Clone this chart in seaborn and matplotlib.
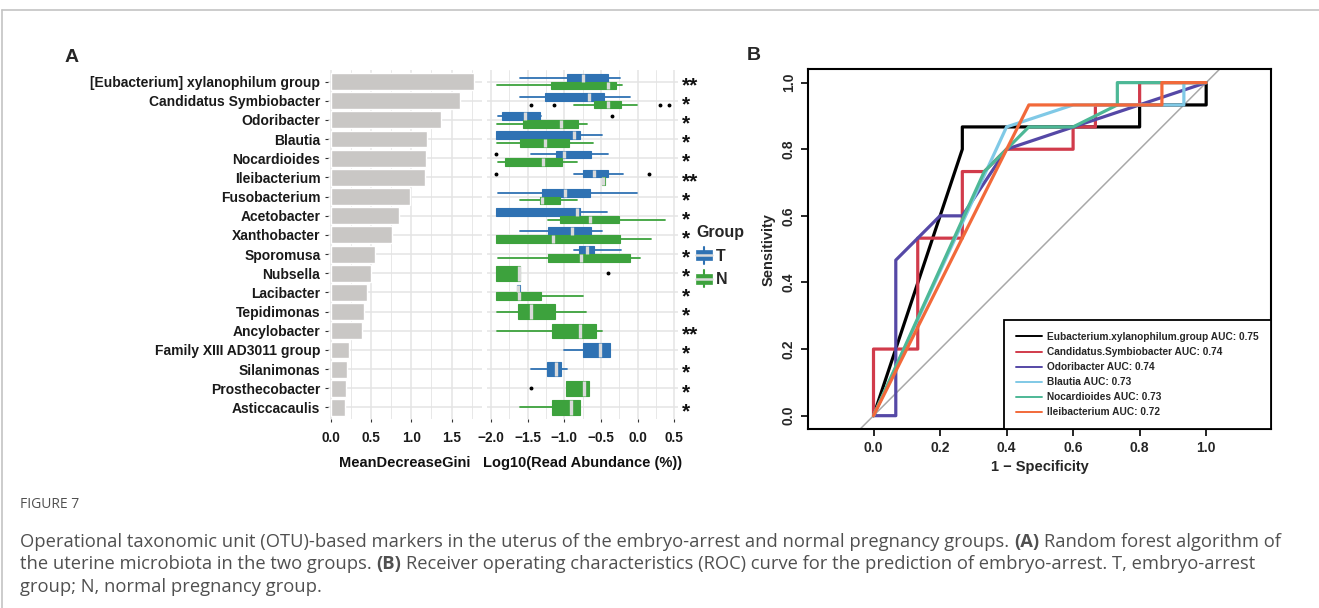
import numpy as np
import pandas as pd
import matplotlib
matplotlib.use("Agg")
import matplotlib.pyplot as plt
import matplotlib.transforms as mtransforms
import seaborn as sns
from matplotlib.legend_handler import HandlerBase
from matplotlib.patches import Patch, Rectangle
from matplotlib.lines import Line2D

sns.set_theme(style="white")
plt.rcParams["font.family"] = ["Liberation Sans", "DejaVu Sans"]

# ---- Panel A data ----
taxa = ["[Eubacterium] xylanophilum group", "Candidatus Symbiobacter", "Odoribacter", "Blautia",
        "Nocardioides", "Ileibacterium", "Fusobacterium", "Acetobacter", "Xanthobacter", "Sporomusa",
        "Nubsella", "Lacibacter", "Tepidimonas", "Ancylobacter", "Family XIII AD3011 group",
        "Silanimonas", "Prosthecobacter", "Asticcacaulis"]
gini = [1.78, 1.61, 1.37, 1.20, 1.18, 1.17, 0.98, 0.85, 0.76, 0.54, 0.49, 0.45, 0.41, 0.39,
        0.22, 0.20, 0.18, 0.17]
stars = ["**", "*", "*", "*", "*", "**", "*", "*", "*", "*", "*", "*", "*", "**", "*", "*", "*", "*"]

# five-number summaries of log10 read abundance, None = group not shown
t_low = [-1.61, -1.61, -1.91, -1.93, -1.45, -0.87, -1.91, -1.93, -1.61, -0.87, None, -1.65, None, None, -1.01, -1.45, None, None]
t_q1 = [-0.96, -1.27, -1.85, -1.93, -1.11, -0.74, -1.30, -1.93, -1.22, -0.80, None, -1.65, None, None, -0.74, -1.23, None, None]
t_med = [-0.74, -0.67, -1.53, -0.87, -1.01, -0.60, -0.99, -0.83, -0.89, -0.69, None, -1.63, None, None, -0.51, -1.11, None, None]
t_q3 = [-0.41, -0.46, -1.33, -0.79, -0.63, -0.41, -0.65, -0.79, -0.64, -0.60, None, -1.61, None, None, -0.38, -1.04, None, None]
t_high = [-0.24, -0.10, -1.32, -0.49, -0.41, -0.20, -0.01, -0.42, -0.49, -0.23, None, -1.61, None, None, -0.38, -0.97, None, None]
t_out = [[], [], [-0.35], [], [-1.93], [-1.93, 0.15], [], [], [], [], [], [], [], [], [], [], [], []]

n_low = [-1.92, -0.87, -1.92, -1.92, -1.91, -0.49, -1.61, -1.22, -1.93, -1.91, -1.93, -1.93, -1.92, -1.92, None, None, -0.98, -1.61]
n_q1 = [-1.18, -0.60, -1.57, -1.60, -1.81, -0.49, -1.33, -1.06, -1.93, -1.22, -1.93, -1.93, -1.63, -1.17, None, None, -0.98, -1.17]
n_med = [-0.41, -0.41, -1.05, -1.27, -1.29, -0.47, -1.31, -0.65, -1.16, -0.77, -1.62, -1.62, -1.45, -0.78, None, None, -0.73, -0.91]
n_q3 = [-0.30, -0.23, -0.82, -0.93, -1.03, -0.44, -1.06, -0.26, -0.24, -0.10, -1.60, -1.32, -1.13, -0.57, None, None, -0.67, -0.78]
n_high = [-0.22, -0.01, -0.69, -0.61, -0.83, -0.44, -0.83, 0.37, 0.18, 0.03, -1.60, -0.74, -0.70, -0.49, None, None, -0.67, -0.78]
n_out = [[], [-1.45, -1.14, 0.30, 0.43], [], [], [], [], [], [], [], [], [-0.41], [], [], [], [], [], [-1.45], []]

# ---- Panel B data ----
roc_names = ["Eubacterium.xylanophilum.group", "Candidatus.Symbiobacter", "Odoribacter",
             "Blautia", "Nocardioides", "Ileibacterium"]
roc_auc = [0.75, 0.74, 0.74, 0.73, 0.73, 0.72]
roc_colors = ["#000000", "#D13B4B", "#5548A6", "#80C9E6", "#4DB896", "#F2693A"]
eub_fpr = [0, 0.267, 0.267, 0.8, 0.8, 1.0, 1.0]
eub_tpr = [0, 0.8, 0.867, 0.867, 0.933, 0.933, 1.0]
can_fpr = [0, 0, 0.133, 0.133, 0.267, 0.267, 0.333, 0.4, 0.6, 0.6, 0.667, 0.667, 0.8, 0.8, 1.0]
can_tpr = [0, 0.2, 0.2, 0.533, 0.533, 0.733, 0.733, 0.8, 0.8, 0.867, 0.867, 0.933, 0.933, 1.0, 1.0]
odo_fpr = [0, 0.067, 0.067, 0.2, 0.267, 0.4, 1.0]
odo_tpr = [0, 0, 0.467, 0.6, 0.6, 0.8, 1.0]
bla_fpr = [0, 0.4, 0.6, 0.933, 0.933, 1.0]
bla_tpr = [0, 0.867, 0.933, 0.933, 1.0, 1.0]
noc_fpr = [0, 0.333, 0.467, 0.6, 0.733, 0.733, 1.0]
noc_tpr = [0, 0.733, 0.867, 0.867, 0.933, 1.0, 1.0]
ile_fpr = [0, 0.467, 0.867, 0.867, 1.0]
ile_tpr = [0, 0.933, 0.933, 1.0, 1.0]

T_COL, N_COL = "#2F72B3", "#3DA23D"
W, H = 1319, 608
fig = plt.figure(figsize=(W / 100, H / 100), dpi=100)
fig.patch.set_facecolor("white")


def frac(x0, y0, x1, y1):
    return [x0 / W, 1 - y1 / H, (x1 - x0) / W, (y1 - y0) / H]


# page frame lines
fig.add_artist(Line2D([2 / W, 1], [1 - 10 / H] * 2, transform=fig.transFigure, color="#c4c4c4", lw=1.2))
fig.add_artist(Line2D([2 / W] * 2, [0, 1 - 10 / H], transform=fig.transFigure, color="#c4c4c4", lw=1.2))

grid_kw = dict(color="#E4E4E4")

# ---- bar panel ----
axA = fig.add_axes(frac(328, 70, 482, 419))
df_gini = pd.DataFrame({"taxon": taxa, "gini": gini})
sns.barplot(data=df_gini, x="gini", y="taxon", orient="h", color="#C9C7C5", saturation=1,
            width=0.88, errorbar=None, ax=axA)
axA.set_xlim(-0.04, 1.88)
axA.set_ylim(17.6, -0.6)
axA.set_xticks([0, 0.5, 1.0, 1.5])
axA.set_xticks([0.25, 0.75, 1.25, 1.75], minor=True)
axA.set_xticklabels(["0.0", "0.5", "1.0", "1.5"])
axA.set_axisbelow(True)
axA.grid(which="major", lw=1.1, **grid_kw)
axA.grid(which="minor", axis="x", lw=0.6, **grid_kw)
axA.set_ylabel("")
axA.set_xlabel("MeanDecreaseGini", fontsize=10.5, fontweight="bold", color="#111111")
axA.xaxis.set_label_coords(0.5, -0.105)
axA.tick_params(axis="both", which="major", bottom=True, left=True, length=2.5, width=0.8,
                color="#333333", pad=3)
axA.tick_params(axis="x", which="minor", bottom=False)
axA.tick_params(axis="x", labelsize=9.8, pad=6)
axA.tick_params(axis="y", labelsize=10)
for lab in axA.get_xticklabels() + axA.get_yticklabels():
    lab.set_fontweight("bold")
    lab.set_color("#1a1a1a")
sns.despine(ax=axA, left=True, bottom=True)

# ---- box panel ----
axB = fig.add_axes(frac(487.3, 70, 678, 419))
axB.set_xlim(-2.05, 0.55)
axB.set_ylim(17.6, -0.6)
axB.set_yticks(range(len(taxa)))
axB.set_yticklabels([])
axB.set_xticks([-2.0, -1.5, -1.0, -0.5, 0.0, 0.5])
axB.set_xticks([-1.75, -1.25, -0.75, -0.25, 0.25], minor=True)
axB.set_xticklabels(["\u22122.0", "\u22121.5", "\u22121.0", "\u22120.5", "0.0", "0.5"])
axB.set_axisbelow(True)
axB.grid(which="major", lw=1.1, **grid_kw)
axB.grid(which="minor", axis="x", lw=0.6, **grid_kw)
axB.tick_params(axis="x", which="major", bottom=True, length=2.5, width=0.8, color="#333333",
                labelsize=9.8, pad=6)
axB.tick_params(axis="x", which="minor", bottom=False)
axB.tick_params(axis="y", left=False, length=0)
for lab in axB.get_xticklabels():
    lab.set_fontweight("bold")
    lab.set_color("#1a1a1a")
axB.set_xlabel("Log10(Read Abundance (%))", fontsize=10.5, fontweight="bold", color="#111111")
axB.xaxis.set_label_coords(0.5, -0.105)
sns.despine(ax=axB, left=True, bottom=True)

groups = [
    (T_COL, t_low, t_q1, t_med, t_q3, t_high, t_out, -1),
    (N_COL, n_low, n_q1, n_med, n_q3, n_high, n_out, 1),
]
for i in range(len(taxa)):
    both = t_med[i] is not None and n_med[i] is not None
    for col, lo, q1, md, q3, hi, out, side in groups:
        if md[i] is None:
            continue
        st = dict(whislo=lo[i], q1=q1[i], med=md[i], q3=q3[i], whishi=hi[i], fliers=out[i])
        pos = i + side * 0.2 if both else i
        wid = 0.4 if both else 0.76
        axB.bxp([st], positions=[pos], widths=[wid], orientation="horizontal", patch_artist=True,
                showcaps=False, manage_ticks=False,
                boxprops=dict(facecolor=col, edgecolor=col, lw=0.8),
                whiskerprops=dict(color=col, lw=1.3),
                medianprops=dict(color="#DADADA", lw=2.4, solid_capstyle="butt"),
                flierprops=dict(marker="o", markerfacecolor="black", markeredgecolor="black",
                                markersize=1.8, lw=0))

star_tr = mtransforms.blended_transform_factory(axB.transAxes, axB.transData)
for i, s in enumerate(stars):
    axB.text(1.019, i + 0.5, s, transform=star_tr, fontsize=15, fontweight="bold",
             ha="left", va="baseline", color="#111111", clip_on=False)


class BoxKey(HandlerBase):
    def create_artists(self, legend, orig_handle, xdescent, ydescent, width, height, fontsize, trans):
        c = orig_handle.get_facecolor()
        x0, y0 = -xdescent, -ydescent
        cx = x0 + width / 2
        whisk = Line2D([cx, cx], [y0 - height * 0.1, y0 + height * 1.1], color=c, lw=1.5,
                       transform=trans)
        box = Rectangle((x0, y0 + height * 0.15), width, height * 0.7, facecolor=c, edgecolor=c,
                        lw=0.5, transform=trans)
        med = Line2D([x0, x0 + width], [y0 + height / 2] * 2, color="#DADADA", lw=1.8, transform=trans)
        return [whisk, box, med]


fig.legend(handles=[Patch(facecolor=T_COL), Patch(facecolor=N_COL)], labels=["T", "N"],
           title="Group", handler_map={Patch: BoxKey()}, loc="upper left",
           bbox_to_anchor=(696 / W, 1 - 225 / H), frameon=False,
           prop=dict(weight="bold", size=11.5), title_fontproperties=dict(weight="bold", size=11.5),
           handlelength=1.0, handleheight=1.0, handletextpad=0.25, labelspacing=0.5,
           alignment="left", borderpad=0, borderaxespad=0)

# ---- ROC panel ----
axC = fig.add_axes(frac(808.3, 69.3, 1270.7, 429))
rows = []
for name, auc, fpr, tpr in zip(roc_names, roc_auc,
                               [eub_fpr, can_fpr, odo_fpr, bla_fpr, noc_fpr, ile_fpr],
                               [eub_tpr, can_tpr, odo_tpr, bla_tpr, noc_tpr, ile_tpr]):
    lab = f"{name} AUC: {auc:.2f}"
    for k, (fx, ty) in enumerate(zip(fpr, tpr)):
        rows.append(dict(label=lab, step=k, fpr=fx, tpr=ty))
df_roc = pd.DataFrame(rows)
labels = list(dict.fromkeys(df_roc["label"]))
palette = dict(zip(labels, roc_colors))
axC.axline((0, 0), (1, 1), color="#A8A8A8", lw=1.1, zorder=1)
sns.lineplot(data=df_roc, x="fpr", y="tpr", hue="label", hue_order=labels, palette=palette,
             estimator=None, sort=False, lw=2.3, legend=False, ax=axC)
axC.set_xlim(-0.196, 1.194)
axC.set_ylim(-0.04, 1.04)
ticks = [0, 0.2, 0.4, 0.6, 0.8, 1.0]
axC.set_xticks(ticks)
axC.set_yticks(ticks)
axC.set_xticklabels([f"{t:.1f}" for t in ticks])
axC.set_yticklabels([f"{t:.1f}" for t in ticks], rotation=90, va="center")
axC.tick_params(axis="both", bottom=True, left=True, direction="out", length=5, width=1.2,
                color="black", labelsize=10, pad=4)
for lab in axC.get_xticklabels() + axC.get_yticklabels():
    lab.set_fontweight("bold")
for sp in axC.spines.values():
    sp.set_visible(True)
    sp.set_color("black")
    sp.set_linewidth(1.5)
axC.grid(False)
axC.set_xlabel("1 \u2212 Specificity", fontsize=10.5, fontweight="bold")
axC.set_ylabel("Sensitivity", fontsize=10.5, fontweight="bold")
axC.xaxis.set_label_coords(0.5, -0.086)
axC.yaxis.set_label_coords(-0.070, 0.5)
handles = [Line2D([0], [0], color=c, lw=1.4) for c in roc_colors]
leg = axC.legend(handles, labels, loc="lower right", bbox_to_anchor=(1, 0), borderaxespad=0,
                 prop=dict(weight="bold", size=7.3), handlelength=2.6, handletextpad=0.5,
                 labelspacing=0.5, borderpad=1.15, fancybox=False, framealpha=1)
leg.get_frame().set_edgecolor("black")
leg.get_frame().set_linewidth(1.3)

# panel letters
fig.text(72 / W, 1 - 57 / H, "A", fontsize=14, fontweight="bold", ha="center", va="center")
fig.text(754 / W, 1 - 56 / H, "B", fontsize=14, fontweight="bold", ha="center", va="center")

# ---- caption ----
cap_font = ["Open Sans", "DejaVu Sans"]
cap_col = "#505050"
cap_size = 13.2
fig.text(20 / W, 1 - 504 / H, "FIGURE 7", fontsize=10, color=cap_col, family=cap_font,
         ha="left", va="center")
renderer = fig.canvas.get_renderer()


def text_w(s, bold):
    t = fig.text(0, 0, s, fontsize=cap_size, family=cap_font, fontweight="bold" if bold else "normal")
    w = t.get_window_extent(renderer).width
    t.remove()
    return w


space_w = text_w("a a", False) - text_w("aa", False)


def rich_line(y_px, parts):
    x = 20
    for txt, bold in parts:
        t = fig.text(x / W, 1 - y_px / H, txt, fontsize=cap_size, family=cap_font, color=cap_col,
                     fontweight="bold" if bold else "normal", ha="left", va="center")
        x += t.get_window_extent(renderer).width + space_w


rich_line(542, [("Operational taxonomic unit (OTU)-based markers in the uterus of the embryo-arrest and normal pregnancy groups.", False),
                ("(A)", True), ("Random forest algorithm of", False)])
rich_line(564, [("the uterine microbiota in the two groups.", False), ("(B)", True),
                ("Receiver operating characteristics (ROC) curve for the prediction of embryo-arrest. T, embryo-arrest", False)])
rich_line(587, [("group; N, normal pregnancy group.", False)])

fig.savefig("out.png", dpi=100, facecolor="white")
